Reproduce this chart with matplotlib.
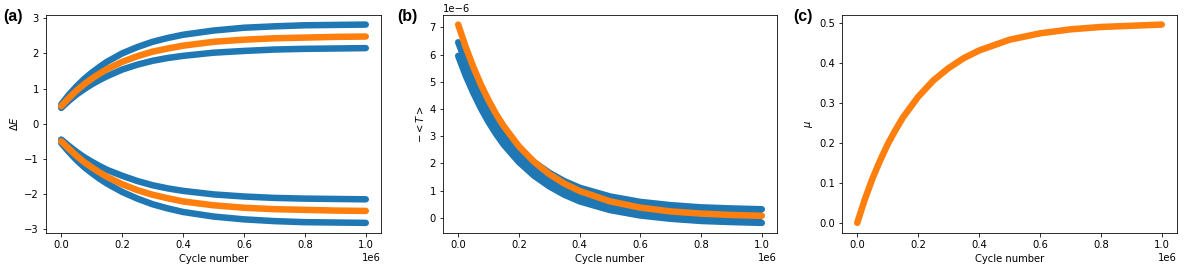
import numpy as np
import matplotlib
matplotlib.use('Agg')
import matplotlib.pyplot as plt

cycle = [0, 25000, 50000, 75000, 100000, 125000, 150000, 200000, 250000,
         300000, 350000, 400000, 500000, 600000, 700000, 800000, 900000, 1000000]

# (a) energy gaps
dE_outer = [0.55, 0.82, 1.06, 1.27, 1.45, 1.61, 1.76, 2.00, 2.18,
            2.33, 2.44, 2.53, 2.65, 2.73, 2.77, 2.80, 2.81, 2.82]
dE_inner = [0.45, 0.65, 0.83, 0.98, 1.12, 1.24, 1.35, 1.54, 1.68,
            1.79, 1.87, 1.93, 2.02, 2.07, 2.11, 2.13, 2.14, 2.15]
dE_mean = [0.50, 0.73, 0.94, 1.12, 1.28, 1.42, 1.55, 1.76, 1.92,
           2.05, 2.14, 2.22, 2.33, 2.39, 2.43, 2.45, 2.47, 2.48]
dE_outer_neg = [-0.55, -0.80, -1.03, -1.23, -1.40, -1.56, -1.70, -1.94, -2.13,
                -2.29, -2.41, -2.51, -2.64, -2.72, -2.77, -2.80, -2.81, -2.82]
dE_inner_neg = [-0.45, -0.63, -0.80, -0.95, -1.08, -1.20, -1.31, -1.48, -1.63,
                -1.75, -1.84, -1.91, -2.01, -2.07, -2.11, -2.13, -2.14, -2.15]
dE_mean_neg = [-0.50, -0.71, -0.91, -1.09, -1.24, -1.38, -1.51, -1.72, -1.89,
               -2.02, -2.12, -2.21, -2.32, -2.39, -2.43, -2.45, -2.47, -2.48]

# (b) -<T>, units of 1e-6
T_blue_hi = [6.45, 5.72, 5.09, 4.52, 4.02, 3.58, 3.19, 2.55, 2.05,
             1.66, 1.35, 1.11, 0.79, 0.59, 0.47, 0.39, 0.35, 0.32]
T_blue_lo = [5.95, 5.22, 4.59, 4.02, 3.52, 3.08, 2.69, 2.05, 1.55,
             1.16, 0.85, 0.61, 0.29, 0.09, -0.03, -0.11, -0.15, -0.18]
T_orange = [7.10, 6.27, 5.54, 4.89, 4.32, 3.81, 3.37, 2.63, 2.06,
            1.61, 1.26, 0.99, 0.61, 0.38, 0.24, 0.16, 0.11, 0.08]

# (c) mu
mu = [0.000, 0.059, 0.111, 0.156, 0.197, 0.232, 0.264, 0.316, 0.357,
      0.388, 0.413, 0.432, 0.459, 0.475, 0.485, 0.491, 0.494, 0.497]

blue = '#1f77b4'
orange = '#ff7f0e'
LW = 6.5

fig = plt.figure(figsize=(1186 / 72, 273 / 72), dpi=72)
bottom, height = 0.1473, 0.799
ax1 = fig.add_axes([46 / 1186, bottom, 335 / 1186, height])
ax2 = fig.add_axes([443 / 1186, bottom, 334 / 1186, height])
ax3 = fig.add_axes([842 / 1186, bottom, 335 / 1186, height])

x = np.array(cycle)
kw = dict(lw=LW, solid_capstyle='round', solid_joinstyle='round')

# (a)
for y in (dE_outer, dE_inner, dE_outer_neg, dE_inner_neg):
    ax1.plot(x, y, color=blue, **kw)
for y in (dE_mean, dE_mean_neg):
    ax1.plot(x, y, color=orange, **kw)
ax1.set_ylabel(r'$\Delta E$')

# (b)
yb_hi = np.array(T_blue_hi) * 1e-6
yb_lo = np.array(T_blue_lo) * 1e-6
ax2.fill_between(x, yb_lo, yb_hi, color=blue, lw=0)
ax2.plot(x, yb_hi, color=blue, **kw)
ax2.plot(x, yb_lo, color=blue, **kw)
ax2.plot(x, np.array(T_orange) * 1e-6, color=orange, **kw)
ax2.set_ylabel(r'$-<T>$')

# (c)
ax3.plot(x, mu, color=orange, **kw)
ax3.set_ylabel(r'$\mu$')

for ax in (ax1, ax2, ax3):
    ax.set_xlabel('Cycle number')

for lab, px in (('(a)', 3), ('(b)', 397), ('(c)', 793)):
    fig.text(px / 1186, 1 - 17 / 273, lab, fontsize=16, fontweight='bold',
             family=['Liberation Sans', 'DejaVu Sans'], ha='left', va='center')

fig.savefig('out.png', dpi=72)
